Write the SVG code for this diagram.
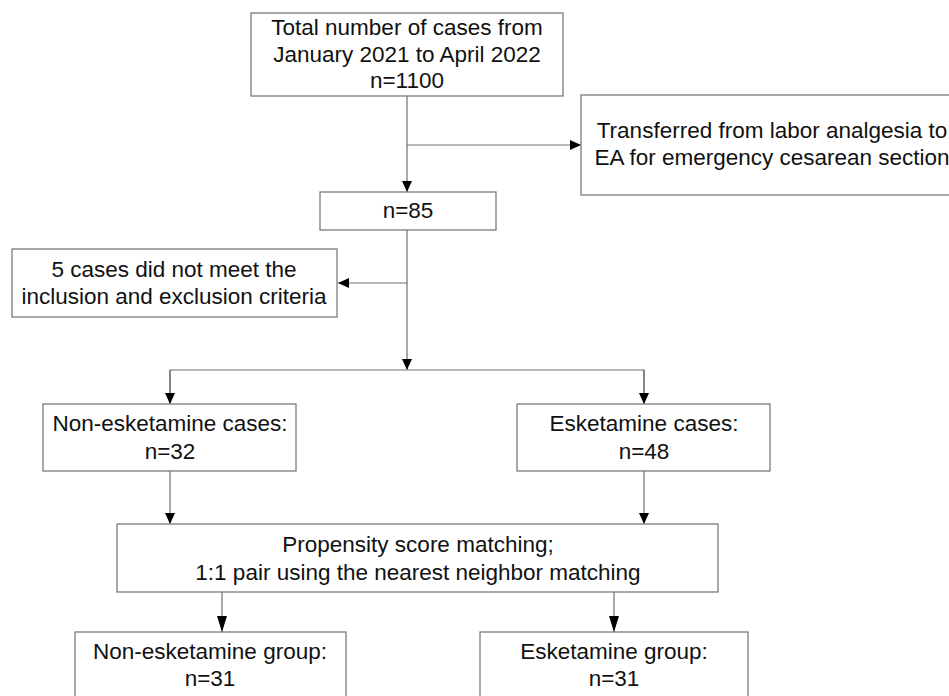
<svg xmlns="http://www.w3.org/2000/svg" width="949" height="696" viewBox="0 0 949 696">
<style>
.box{fill:#fff;stroke:#707070;stroke-width:1.2}
.ln{fill:none;stroke:#707070;stroke-width:1.2}
text{font-family:"Liberation Sans",Arial,sans-serif;font-size:22.5px;fill:#111;text-anchor:middle}
</style>
<defs>
<marker id="ah" markerUnits="userSpaceOnUse" markerWidth="11" markerHeight="10" refX="11" refY="5" orient="auto">
<path d="M0,0 L11,5 L0,10 z" fill="#000"/>
</marker>
<marker id="ahl" markerUnits="userSpaceOnUse" markerWidth="16" markerHeight="10" refX="16" refY="5" orient="auto">
<path d="M0,0 L16,5 L0,10 z" fill="#000"/>
</marker>
</defs>
<rect width="949" height="696" fill="#fff"/>
<g id="connectors">
<line class="ln" x1="407" y1="96" x2="407" y2="192" marker-end="url(#ah)"/>
<line class="ln" x1="407" y1="145" x2="581" y2="145" marker-end="url(#ah)"/>
<line class="ln" x1="407" y1="230" x2="407" y2="370" marker-end="url(#ah)"/>
<line class="ln" x1="407" y1="283" x2="338" y2="283" marker-end="url(#ah)"/>
<polyline class="ln" points="170,404 170,370 644,370 644,404"/>
<line class="ln" x1="170" y1="370" x2="170" y2="404" marker-end="url(#ah)"/>
<line class="ln" x1="644" y1="370" x2="644" y2="404" marker-end="url(#ah)"/>
<line class="ln" x1="170" y1="471" x2="170" y2="524" marker-end="url(#ah)"/>
<line class="ln" x1="644" y1="471" x2="644" y2="524" marker-end="url(#ah)"/>
<line class="ln" x1="222" y1="592" x2="222" y2="632" marker-end="url(#ahl)"/>
<line class="ln" x1="614" y1="592" x2="614" y2="632" marker-end="url(#ahl)"/>
</g>
<g id="total">
<rect class="box" x="251" y="13" width="312" height="83"/>
<text x="407" y="34.5">Total number of cases from</text>
<text x="407" y="61.5">January 2021 to April 2022</text>
<text x="407" y="88">n=1100</text>
</g>
<g id="transferred">
<rect class="box" x="581" y="95" width="400" height="100"/>
<text x="772" y="138">Transferred from labor analgesia to</text>
<text x="772" y="165">EA for emergency cesarean section</text>
</g>
<g id="n85">
<rect class="box" x="320" y="192" width="176" height="38"/>
<text x="408" y="218">n=85</text>
</g>
<g id="excluded">
<rect class="box" x="12" y="249" width="325" height="68"/>
<text x="174" y="277">5 cases did not meet the</text>
<text x="174" y="304">inclusion and exclusion criteria</text>
</g>
<g id="nonesk-cases">
<rect class="box" x="43" y="404" width="253" height="67"/>
<text x="170" y="431">Non-esketamine cases:</text>
<text x="170" y="459">n=32</text>
</g>
<g id="esk-cases">
<rect class="box" x="517" y="404" width="253" height="67"/>
<text x="644" y="431">Esketamine cases:</text>
<text x="644" y="459">n=48</text>
</g>
<g id="psm">
<rect class="box" x="117" y="524" width="601" height="68"/>
<text x="418" y="552">Propensity score matching;</text>
<text x="418" y="580">1:1 pair using the nearest neighbor matching</text>
</g>
<g id="nonesk-group">
<rect class="box" x="75" y="632" width="271" height="80"/>
<text x="210" y="659">Non-esketamine group:</text>
<text x="210" y="686">n=31</text>
</g>
<g id="esk-group">
<rect class="box" x="480" y="632" width="268" height="80"/>
<text x="614" y="659">Esketamine group:</text>
<text x="614" y="686">n=31</text>
</g>
</svg>
